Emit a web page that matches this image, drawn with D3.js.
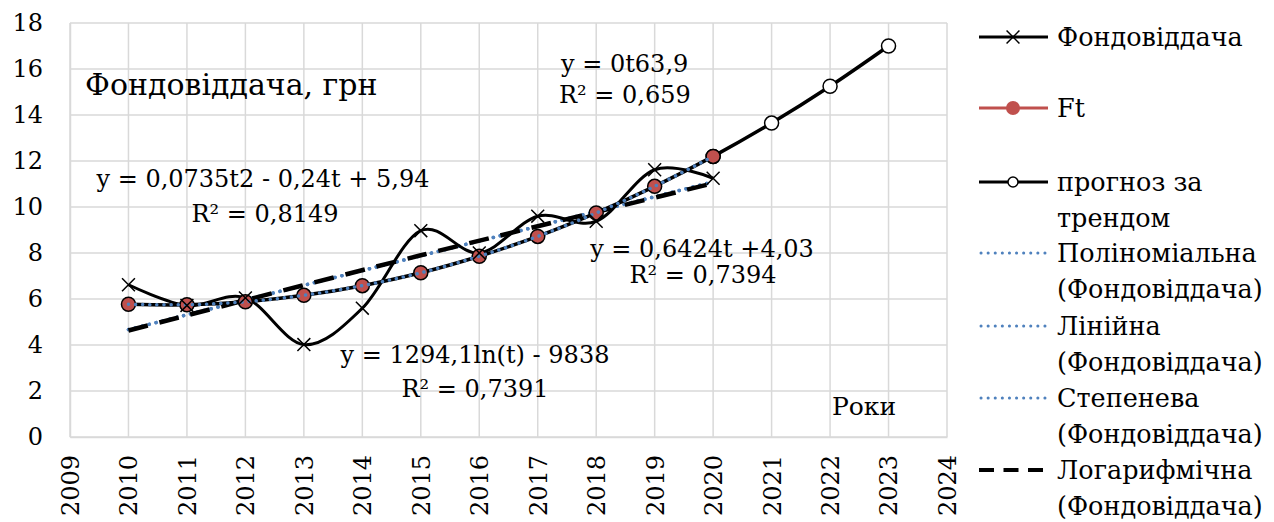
<!DOCTYPE html>
<html>
<head>
<meta charset="utf-8">
<script src="https://cdn.jsdelivr.net/npm/d3@7"></script>
<style>
  body { margin: 0; background: #fff; }
  text { font-family: 'DejaVu Serif', serif; fill: #000; }
</style>
</head>
<body>
<svg></svg>
<script>
// data
let years = [2010, 2011, 2012, 2013, 2014, 2015, 2016, 2017, 2018, 2019, 2020]
let fond = [6.62, 5.72, 6.05, 4.02, 5.6, 8.97, 8.0, 9.6, 9.38, 11.62, 11.25]
let ft = [5.77, 5.75, 5.88, 6.16, 6.58, 7.14, 7.86, 8.72, 9.74, 10.9, 12.2]
let forecastYears = [2010, 2011, 2012, 2013, 2014, 2015, 2016, 2017, 2018, 2019, 2020, 2021, 2022, 2023]
let forecast = [5.77, 5.75, 5.88, 6.16, 6.58, 7.14, 7.86, 8.72, 9.74, 10.9, 12.2, 13.65, 15.25, 17.0]
let markedForecastYears = [2020, 2021, 2022, 2023]
let linYears = [2010, 2020]
let linVals = [4.67, 11.09]
let logYears = [2010, 2015, 2020]
let logVals = [4.63, 7.9, 11.03]
let powVals = [4.67, 11.09]
let xTicks = d3.range(2009, 2025)
let yTicks = [0, 2, 4, 6, 8, 10, 12, 14, 16, 18]

let legendNames = [
  ['Фондовіддача'],
  ['Ft'],
  ['прогноз за', 'трендом'],
  ['Поліноміальна', '(Фондовіддача)'],
  ['Лінійна', '(Фондовіддача)'],
  ['Степенева', '(Фондовіддача)'],
  ['Логарифмічна', '(Фондовіддача)']
]

let svg = d3.select('svg').attr('width', 1274).attr('height', 522)

let x = d3.scaleLinear().domain([2009, 2024]).range([70, 947])
let y = d3.scaleLinear().domain([0, 18]).range([437, 23])

// grid
svg.append('g').selectAll('line').data(xTicks).enter().append('line')
  .attr('x1', d => x(d)).attr('x2', d => x(d))
  .attr('y1', y(0)).attr('y2', y(18))
  .attr('stroke', '#d9d9d9').attr('stroke-width', 1.5)
svg.append('g').selectAll('line').data(yTicks).enter().append('line')
  .attr('x1', x(2009)).attr('x2', x(2024))
  .attr('y1', d => y(d)).attr('y2', d => y(d))
  .attr('stroke', '#d9d9d9').attr('stroke-width', 1.5)

// axes
let yAxis = svg.append('g').attr('transform', 'translate(' + x(2009) + ',0)')
  .call(d3.axisLeft(y).tickValues(yTicks).tickSize(0).tickPadding(27))
yAxis.select('.domain').attr('stroke', '#d9d9d9').attr('stroke-width', 1.5)
yAxis.selectAll('text').style('font-size', '24px').style('font-family', 'DejaVu Serif')

let xAxis = svg.append('g').attr('transform', 'translate(0,' + y(0) + ')')
  .call(d3.axisBottom(x).tickValues(xTicks).tickFormat(d3.format('d')).tickSize(0))
xAxis.select('.domain').attr('stroke', '#d9d9d9').attr('stroke-width', 1.5)
xAxis.selectAll('text')
  .style('font-size', '24px').style('font-family', 'DejaVu Serif')
  .attr('text-anchor', 'end')
  .attr('transform', 'rotate(-90)')
  .attr('x', -18).attr('y', 0).attr('dy', '0.35em')

// lines
let line = d3.line().x(d => x(d[0])).y(d => y(d[1]))
let smooth = d3.line().x(d => x(d[0])).y(d => y(d[1])).curve(d3.curveCatmullRom.alpha(0))

// power and linear trends (dotted), log trend dashed on top
svg.append('path')
  .attr('d', line(linYears.map((d, i) => [d, powVals[i]])))
  .attr('fill', 'none').attr('stroke', '#4f81bd').attr('stroke-width', 3.5)
  .attr('stroke-dasharray', '0.1,7').attr('stroke-linecap', 'round')

svg.append('path')
  .attr('d', line(linYears.map((d, i) => [d, linVals[i]])))
  .attr('fill', 'none').attr('stroke', '#4f81bd').attr('stroke-width', 3.5)
  .attr('stroke-dasharray', '0.1,7').attr('stroke-linecap', 'round')

svg.append('path')
  .attr('d', smooth(logYears.map((d, i) => [d, logVals[i]])))
  .attr('fill', 'none').attr('stroke', '#000').attr('stroke-width', 4.5)
  .attr('stroke-dasharray', '20,12')

svg.append('path')
  .attr('d', smooth(years.map((d, i) => [d, fond[i]])))
  .attr('fill', 'none').attr('stroke', '#000').attr('stroke-width', 3)

svg.append('path')
  .attr('d', smooth(forecastYears.map((d, i) => [d, forecast[i]])))
  .attr('fill', 'none').attr('stroke', '#000').attr('stroke-width', 3.5)

// open circle markers of forecast
svg.append('g').selectAll('circle')
  .data(markedForecastYears).enter().append('circle')
  .attr('cx', d => x(d)).attr('cy', d => y(forecast[forecastYears.indexOf(d)]))
  .attr('r', 7).attr('fill', '#fff').attr('stroke', '#000').attr('stroke-width', 1.5)

// Ft markers
svg.append('g').selectAll('circle')
  .data(years).enter().append('circle')
  .attr('cx', d => x(d)).attr('cy', (d, i) => y(ft[i]))
  .attr('r', 7).attr('fill', '#c0504d').attr('stroke', '#000').attr('stroke-width', 1.5)

// polynomial trend (dotted over Ft)
svg.append('path')
  .attr('d', smooth(years.map((d, i) => [d, ft[i]])))
  .attr('fill', 'none').attr('stroke', '#4f81bd').attr('stroke-width', 3.5)
  .attr('stroke-dasharray', '0.1,7').attr('stroke-linecap', 'round')

// x markers
let cross = d3.symbol().type(d3.symbolX).size(110)
svg.append('g').selectAll('path')
  .data(years).enter().append('path')
  .attr('d', cross)
  .attr('transform', (d, i) => 'translate(' + x(d) + ',' + y(fond[i]) + ')')
  .attr('fill', 'none').attr('stroke', '#000').attr('stroke-width', 1.5)

// labels in the plot
let labels = [
  {t: 'Фондовіддача, грн', x: 85, y: 95, s: 30, a: 'start'},
  {t: 'y = 0,0735t2 - 0,24t + 5,94', x: 263, y: 187, s: 24, a: 'middle'},
  {t: 'R² = 0,8149', x: 265, y: 222, s: 24, a: 'middle'},
  {t: 'y = 0t63,9', x: 561, y: 72, s: 24, a: 'start'},
  {t: 'R² = 0,659', x: 559, y: 103, s: 24, a: 'start'},
  {t: 'y = 0,6424t +4,03', x: 702, y: 257, s: 24, a: 'middle'},
  {t: 'R² = 0,7394', x: 703, y: 283, s: 24, a: 'middle'},
  {t: 'y = 1294,1ln(t) - 9838', x: 475, y: 363, s: 24, a: 'middle'},
  {t: 'R² = 0,7391', x: 475, y: 397, s: 24, a: 'middle'},
  {t: 'Роки', x: 832, y: 415, s: 25, a: 'start'}
]
svg.append('g').selectAll('text').data(labels).enter().append('text')
  .attr('x', d => d.x).attr('y', d => d.y)
  .attr('text-anchor', d => d.a)
  .style('font-size', d => d.s + 'px')
  .text(d => d.t)

// legend
let legY = [37, 108, 182, 253, 326, 398, 470]
let leg = svg.append('g')
legendNames.forEach(function(names, i) {
  let g = leg.append('g').attr('transform', 'translate(0,' + legY[i] + ')')
  let ln = g.append('line').attr('x1', 979).attr('x2', 1048).attr('y1', 0).attr('y2', 0)
  if (i == 0 || i == 2) ln.attr('stroke', '#000').attr('stroke-width', 3)
  if (i == 1) ln.attr('stroke', '#c0504d').attr('stroke-width', 3)
  if (i >= 3 && i <= 5) ln.attr('stroke', '#4f81bd').attr('stroke-width', 3)
    .attr('stroke-dasharray', '0.1,7').attr('stroke-linecap', 'round').attr('x1', 981)
  if (i == 6) ln.attr('stroke', '#000').attr('stroke-width', 4).attr('stroke-dasharray', '15,9.5')
  if (i == 0) g.append('path').attr('d', cross).attr('transform', 'translate(1013,0)')
    .attr('fill', 'none').attr('stroke', '#000').attr('stroke-width', 1.5)
  if (i == 1) g.append('circle').attr('cx', 1013).attr('r', 7).attr('fill', '#c0504d')
  if (i == 2) g.append('circle').attr('cx', 1013).attr('r', 5).attr('fill', '#fff')
    .attr('stroke', '#000').attr('stroke-width', 1.5)
  names.forEach(function(n, j) {
    g.append('text').attr('x', 1057).attr('y', 9 + j * 36)
      .style('font-size', '25.5px').text(n)
  })
})
</script>
</body>
</html>
